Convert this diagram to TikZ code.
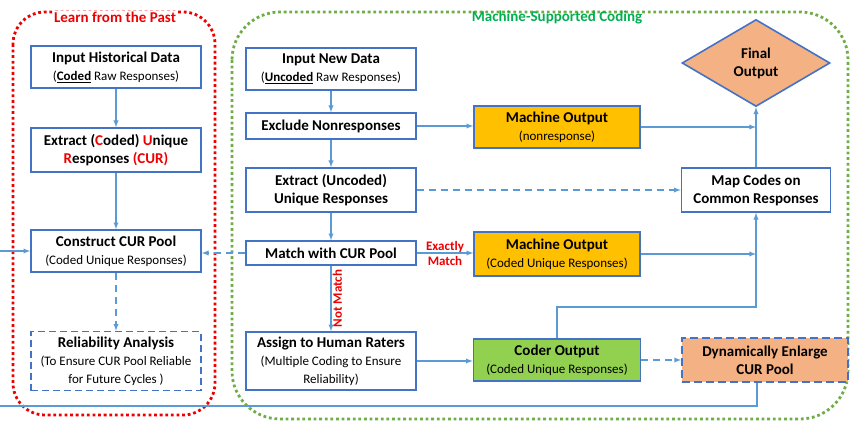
\documentclass[tikz,border=0pt]{standalone}
\usepackage{fontspec}
\setmainfont{Carlito}
\usepackage{xcolor}
\usepackage{tikz}
\usetikzlibrary{shapes.geometric, arrows, positioning}
\definecolor{frameblue}{RGB}{68,114,196}
\definecolor{flowblue}{RGB}{91,155,213}
\definecolor{amber}{RGB}{255,192,0}
\definecolor{peach}{RGB}{244,177,131}
\definecolor{leaf}{RGB}{146,208,80}
\definecolor{pastred}{RGB}{238,0,0}
\definecolor{codegreen}{RGB}{112,173,71}
\definecolor{titlegreen}{RGB}{0,176,80}
\newcommand{\subtxt}[1]{{\fontsize{13}{17}\selectfont #1}}

\begin{document}
\begin{tikzpicture}[x=1pt, y=-1pt,
  stage/.style={rectangle, draw=frameblue, line width=1.6pt, fill=white, minimum width=170pt, align=center, inner sep=2pt, font=\fontsize{15}{18}\selectfont},
  flow/.style={->, >=latex, line width=1.3pt, flowblue},
  soft/.style={flow, dash pattern=on 7pt off 5pt},
  zone/.style={line width=2.8pt, dash pattern=on 2.8pt off 2.8pt},
  hint/.style={pastred, font=\fontsize{13}{15}\selectfont\bfseries, inner sep=1pt}
]
\useasboundingbox (0,0) rectangle (850,422);
\clip (0,0) rectangle (850,422);

% the two phases
\draw[zone, pastred, fill=white, rounded corners=32pt] (13,12) rectangle (215,415);
\draw[zone, codegreen, fill=white, rounded corners=48pt] (232,12) rectangle (848,419);
\node[pastred, fill=white, inner sep=1pt, font=\fontsize{15}{18}\selectfont\bfseries] (pasttitle) at (115,17) {Learn from the Past};
\node[titlegreen, inner sep=1pt, font=\fontsize{15}{18}\selectfont\bfseries] (codetitle) at (557,18) {Machine-Supported Coding};

% learn from the past
\node[stage, minimum height=42pt] (hist) at (116,67) {\textbf{Input Historical Data}\\\subtxt{(\underline{\textbf{Coded}} Raw Responses)}};
\node[stage, minimum height=44pt] (cext) at (116,150) {\textbf{Extract (\textcolor{pastred}{C}oded) \textcolor{pastred}{U}nique}\\\textbf{\textcolor{pastred}{R}esponses \textcolor{pastred}{(CUR)}}};
\node[stage, minimum height=42pt] (pool) at (116,251) {\textbf{Construct CUR Pool}\\\subtxt{(Coded Unique Responses)}};
\node[stage, dash pattern=on 7pt off 4pt, minimum height=59pt] (rel) at (116,361) {\textbf{Reliability Analysis}\\\subtxt{(To Ensure CUR Pool Reliable}\\\subtxt{for Future Cycles )}};

% machine-supported coding
\node[stage, minimum height=42pt] (new) at (331,69) {\textbf{Input New Data}\\\subtxt{(\underline{\textbf{Uncoded}} Raw Responses)}};
\node[stage, minimum height=26pt] (excl) at (331,126) {\textbf{Exclude Nonresponses}};
\node[stage, minimum height=44pt] (uext) at (331,190) {\textbf{Extract (Uncoded)}\\\textbf{Unique Responses}};
\node[stage, minimum height=24pt] (match) at (331,253) {\textbf{Match with CUR Pool}};
\node[stage, minimum height=58pt] (assign) at (331,361) {\textbf{Assign to Human Raters}\\\subtxt{(Multiple Coding to Ensure}\\\subtxt{Reliability)}};

\node[stage, fill=amber, minimum width=166pt, minimum height=42pt] (mnon) at (557,127) {\textbf{Machine Output}\\\subtxt{(nonresponse)}};
\node[stage, fill=amber, minimum width=166pt, minimum height=44pt] (mcur) at (557,254) {\textbf{Machine Output}\\\subtxt{(Coded Unique Responses)}};
\node[stage, fill=leaf, minimum width=167pt, minimum height=42pt] (coder) at (557,360) {\textbf{Coder Output}\\\subtxt{(Coded Unique Responses)}};

\node[diamond, draw=frameblue, line width=1.6pt, fill=peach, minimum width=148pt, minimum height=87pt, inner sep=0pt, align=center, font=\fontsize{15}{18}\selectfont\bfseries] (final) at (756,63) {Final\\Output};
\node[stage, minimum width=149pt, minimum height=44pt] (mapc) at (756,190) {\textbf{Map Codes on}\\\textbf{Common Responses}};
\node[stage, fill=peach, line width=2pt, dash pattern=on 8pt off 4pt, minimum width=166pt, minimum height=44pt] (dyn) at (765,360) {\textbf{Dynamically Enlarge}\\\textbf{CUR Pool}};

\coordinate (join) at (756,307);
\coordinate (drop) at (757,406);
\coordinate (back) at (-6,406);

\draw[flow] (hist) -- (cext);
\draw[flow] (cext) -- (pool);
\draw[soft] (pool) -- (rel);
\draw[flow] (new) -- (excl);
\draw[flow] (excl) -- (uext);
\draw[flow] (uext) -- (match);
\draw[flow] (match) -- (assign) node[midway, rotate=90, anchor=north, hint] {Not Match};
\draw[flow] (match.east) -- (match.east -| mcur.west) node[midway, hint, align=center] {Exactly\\Match};
\draw[flow] (excl.east) -- (excl.east -| mnon.west);
\draw[flow] (mnon.east) -- (mnon.east -| final.south);
\draw[flow] (mapc) -- (final);
\draw[soft] (uext) -- (mapc);
\draw[flow] (mcur.east) -- (mcur.east -| mapc.south);
\draw[flow] (coder.north) |- (join) -- (mapc.south);
\draw[flow] (assign.east) -- (assign.east -| coder.west);
\draw[soft] (coder) -- (dyn);
\draw[soft] (match.west) -- (match.west -| pool.east);
\draw[flow] (dyn.south -| drop) |- (back) |- (pool.west);
\end{tikzpicture}
\end{document}
